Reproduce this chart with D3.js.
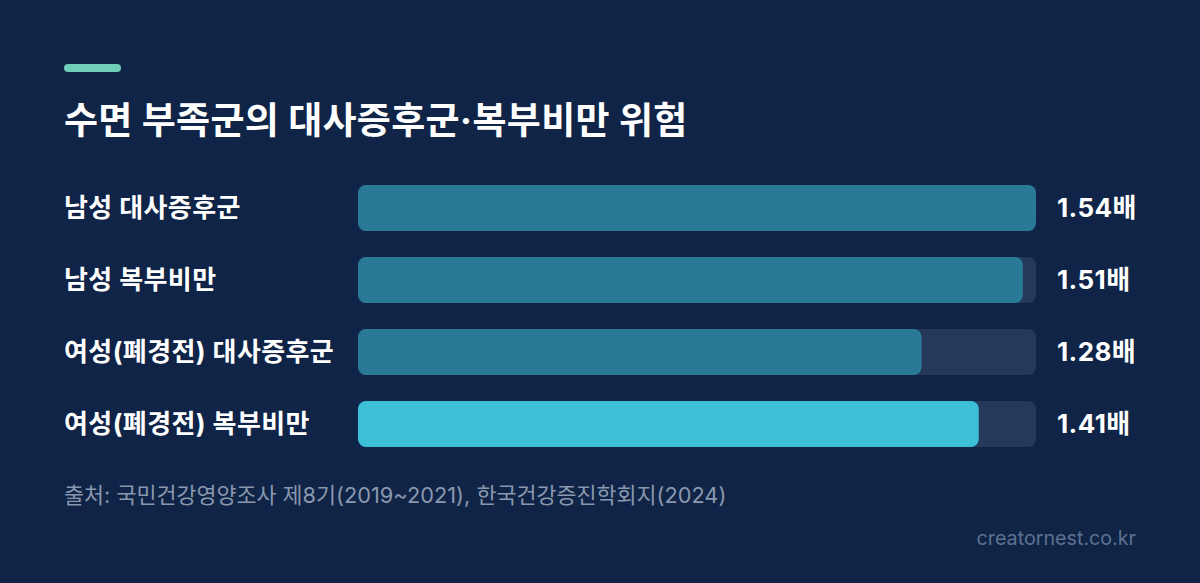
<!DOCTYPE html>
<html lang="ko">
<head>
<meta charset="utf-8">
<script src="https://cdn.jsdelivr.net/npm/d3@7"></script>
<style>
  html, body { margin: 0; padding: 0; background: #0f2446; }
  svg { display: block; font-family: Inter, "Noto Sans CJK KR", "Noto Sans", sans-serif; }
</style>
</head>
<body>
<div id="plot"></div>
<script>
// chart data
const categories = ["남성 대사증후군", "남성 복부비만", "여성(폐경전) 대사증후군", "여성(폐경전) 복부비만"];
const values = [1.54, 1.51, 1.28, 1.41];
const valueLabels = ["1.54배", "1.51배", "1.28배", "1.41배"];
const highlight = [false, false, false, true];

const W = 1200, H = 583;
const barLeft = 358, barRight = 1036;

const svg = d3.select("#plot")
  .append("svg")
  .attr("width", W)
  .attr("height", H);

svg.append("rect")
  .attr("width", W)
  .attr("height", H)
  .attr("fill", "#0f2446");

// accent line + title
svg.append("rect")
  .attr("x", 64).attr("y", 64)
  .attr("width", 57).attr("height", 8)
  .attr("rx", 4)
  .attr("fill", "#6fcfb8");

svg.append("text")
  .attr("x", 64).attr("y", 134)
  .attr("fill", "#ffffff")
  .style("font-size", "37px")
  .style("font-weight", "700")
  .style("letter-spacing", "0.3px")
  .text("수면 부족군의 대사증후군·복부비만 위험");

// scales
const x = d3.scaleLinear()
  .domain([0, d3.max(values)])
  .range([barLeft, barRight]);

const y = d3.scaleBand()
  .domain(categories)
  .range([185 - 13, 185 + 72 * 4 - 13])
  .paddingInner(26 / 72)
  .paddingOuter(13 / 72);

const rows = svg.selectAll(".row")
  .data(categories)
  .enter()
  .append("g")
  .attr("class", "row");

// track
rows.append("rect")
  .attr("x", x(0))
  .attr("y", d => y(d))
  .attr("width", x(d3.max(values)) - x(0))
  .attr("height", y.bandwidth())
  .attr("rx", 8)
  .attr("fill", "#253a5a");

// value bar
rows.append("rect")
  .attr("x", x(0))
  .attr("y", d => y(d))
  .attr("width", (d, i) => x(values[i]) - x(0))
  .attr("height", y.bandwidth())
  .attr("rx", 8)
  .attr("fill", (d, i) => highlight[i] ? "#3ebfd8" : "#2a7a97");

// category labels
rows.append("text")
  .attr("x", 64)
  .attr("y", d => y(d) + y.bandwidth() / 2)
  .attr("dy", "0.36em")
  .attr("fill", "#ffffff")
  .style("font-size", "26px")
  .style("font-weight", "700")
  .style("letter-spacing", "0.4px")
  .text(d => d);

// value labels
rows.append("text")
  .attr("x", 1057)
  .attr("y", d => y(d) + y.bandwidth() / 2)
  .attr("dy", "0.36em")
  .attr("fill", "#ffffff")
  .style("font-size", "26px")
  .style("font-weight", "700")
  .style("letter-spacing", "0.4px")
  .text((d, i) => valueLabels[i]);

// source + credit
svg.append("text")
  .attr("x", 64).attr("y", 503)
  .attr("fill", "#8a98ae")
  .style("font-size", "21.75px")
  .text("출처: 국민건강영양조사 제8기(2019~2021), 한국건강증진학회지(2024)");

svg.append("text")
  .attr("x", 1136).attr("y", 545)
  .attr("text-anchor", "end")
  .attr("fill", "#5d7190")
  .style("font-size", "19.7px")
  .text("creatornest.co.kr");
</script>
</body>
</html>
